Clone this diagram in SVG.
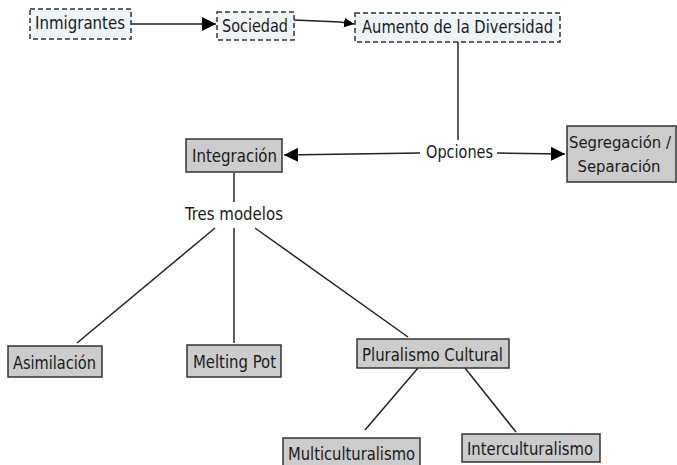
<svg xmlns="http://www.w3.org/2000/svg" width="677" height="465" viewBox="0 0 677 465">
<style>
text{font-family:"DejaVu Sans Condensed","DejaVu Sans",sans-serif;font-size:18px;fill:#1a1a1a;text-anchor:middle}
.sm{font-size:16.5px}
.dash{fill:#eef3f6;stroke:#333;stroke-width:1.5;stroke-dasharray:5,3}
.solid{fill:#cccccc;stroke:#333;stroke-width:1.5}
.ln{stroke:#222;stroke-width:1.5;fill:none}
</style>
<defs>
<marker id="ah" viewBox="0 0 10 10" refX="10" refY="5" markerWidth="10" markerHeight="10" markerUnits="userSpaceOnUse" orient="auto">
<path d="M0,0 L10,5 L0,10 z" fill="#000"/>
</marker>
<marker id="ah2" viewBox="0 0 14 14" refX="14" refY="7" markerWidth="14" markerHeight="14" markerUnits="userSpaceOnUse" orient="auto">
<path d="M0,0 L14,7 L0,14 z" fill="#000"/>
</marker>
</defs>
<rect width="677" height="465" fill="#fff"/>
<g id="connectors">
<line class="ln" x1="131" y1="24" x2="216" y2="24" marker-end="url(#ah2)"/>
<polyline class="ln" points="294,20 340,22 354,24" marker-end="url(#ah)"/>
<line class="ln" x1="458" y1="42" x2="458" y2="140"/>
<line class="ln" x1="420" y1="153" x2="284" y2="155" marker-end="url(#ah2)"/>
<line class="ln" x1="497" y1="153" x2="565" y2="154" marker-end="url(#ah2)"/>
<line class="ln" x1="234" y1="173" x2="234" y2="202"/>
<line class="ln" x1="215" y1="228" x2="77" y2="343"/>
<line class="ln" x1="234" y1="228" x2="234" y2="343"/>
<line class="ln" x1="255" y1="228" x2="408" y2="337"/>
<line class="ln" x1="418" y1="368" x2="365" y2="430"/>
<line class="ln" x1="465" y1="368" x2="516" y2="432"/>
</g>
<g id="inmigrantes"><rect class="dash" x="30" y="9" width="101" height="30"/><text x="80" y="29" textLength="90" lengthAdjust="spacingAndGlyphs">Inmigrantes</text></g>
<g id="sociedad"><rect class="dash" x="217" y="12" width="77" height="28"/><text x="255" y="31.5" textLength="66" lengthAdjust="spacingAndGlyphs">Sociedad</text></g>
<g id="aumento"><rect class="dash" x="355" y="13" width="205" height="29"/><text x="457.5" y="33" textLength="191" lengthAdjust="spacingAndGlyphs">Aumento de la Diversidad</text></g>
<g id="opciones"><text x="459.5" y="158" textLength="67" lengthAdjust="spacingAndGlyphs">Opciones</text></g>
<g id="integracion"><rect class="solid" x="186" y="139" width="96" height="33"/><text x="234.5" y="161.5" textLength="85" lengthAdjust="spacingAndGlyphs">Integración</text></g>
<g id="segregacion"><rect class="solid" x="567" y="126" width="109" height="56"/><text class="sm" x="620" y="148">Segregación /</text><text class="sm" x="619" y="172">Separación</text></g>
<g id="tres"><text x="234" y="220" textLength="98" lengthAdjust="spacingAndGlyphs">Tres modelos</text></g>
<g id="asimilacion"><rect class="solid" x="8" y="346" width="94" height="31"/><text x="54.5" y="369" textLength="83" lengthAdjust="spacingAndGlyphs">Asimilación</text></g>
<g id="melting"><rect class="solid" x="187" y="345" width="94" height="32"/><text x="234.5" y="367.5" textLength="83" lengthAdjust="spacingAndGlyphs">Melting Pot</text></g>
<g id="pluralismo"><rect class="solid" x="357" y="339" width="152" height="29"/><text x="432.5" y="360.5" textLength="141" lengthAdjust="spacingAndGlyphs">Pluralismo Cultural</text></g>
<g id="multi"><rect class="solid" x="283" y="438" width="137" height="30"/><text x="351.5" y="460" textLength="127" lengthAdjust="spacingAndGlyphs">Multiculturalismo</text></g>
<g id="inter"><rect class="solid" x="462" y="434" width="138" height="28"/><text x="530" y="455" textLength="126" lengthAdjust="spacingAndGlyphs">Interculturalismo</text></g>
</svg>
